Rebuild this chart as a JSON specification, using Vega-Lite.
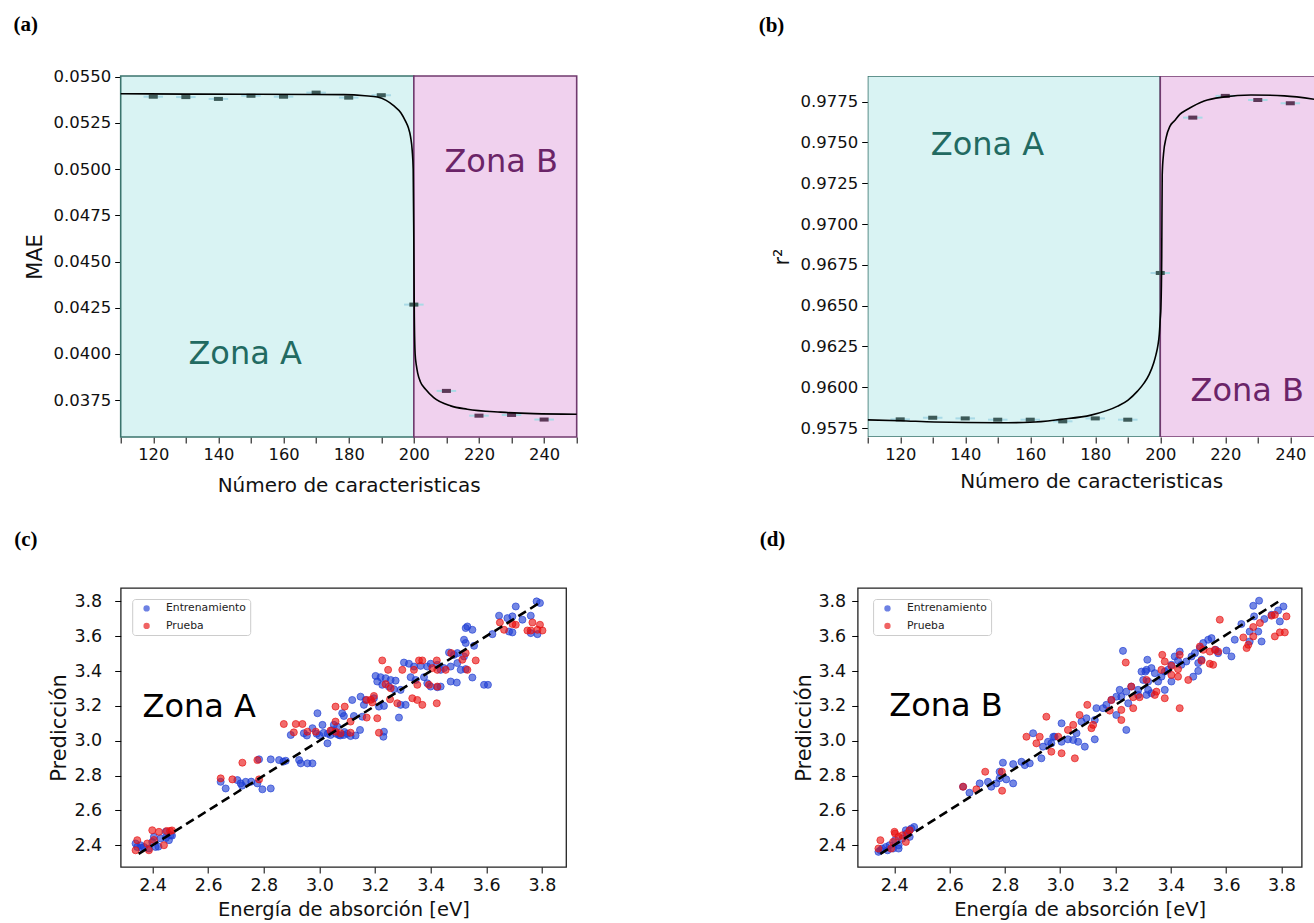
{
  "$schema": "https://vega.github.io/schema/vega-lite/v6.json",
  "padding": {"left": 12.7, "top": 13, "right": 0, "bottom": 0},
  "background": "white",
  "config": {
    "font": "DejaVu Sans",
    "axis": {"domain": false, "grid": false, "tickColor": "#000", "tickWidth": 1, "tickCount": 40, "labelOverlap": false, "labelFont": "DejaVu Sans", "titleFont": "DejaVu Sans", "titleFontWeight": "normal", "labelColor": "#111", "titleColor": "#111"},
    "title": {"font": "Liberation Serif", "fontSize": 21, "fontWeight": "bold", "anchor": "start", "frame": "group", "baseline": "alphabetic", "color": "#000"},
    "legend": {"title": null, "orient": "none", "symbolType": "circle", "symbolSize": 40, "symbolOpacity": 0.65, "symbolStrokeWidth": 0, "labelFont": "DejaVu Sans", "labelFontSize": 10.8, "labelColor": "#222", "labelOffset": 14, "symbolOffset": 5, "padding": 4, "rowPadding": 5.5, "strokeColor": "#cccccc", "fillColor": "#ffffff", "cornerRadius": 3}
  },
  "datasets": {
    "zonasA": [{"zona": "A", "desde": 110, "hasta": 200}, {"zona": "B", "desde": 200, "hasta": 250}],
    "zonasB": [{"zona": "A", "desde": 110, "hasta": 200}, {"zona": "B", "desde": 200, "hasta": 250}],
    "puntosA": [
      {"n": 120, "mae": 0.05392, "err": 3, "zona": "A"},
      {"n": 130, "mae": 0.05390, "err": 3, "zona": "A"},
      {"n": 140, "mae": 0.05380, "err": 3, "zona": "A"},
      {"n": 150, "mae": 0.05397, "err": 3, "zona": "A"},
      {"n": 160, "mae": 0.05392, "err": 3, "zona": "A"},
      {"n": 170, "mae": 0.05414, "err": 3, "zona": "A"},
      {"n": 180, "mae": 0.05387, "err": 3, "zona": "A"},
      {"n": 190, "mae": 0.05400, "err": 3, "zona": "A"},
      {"n": 200, "mae": 0.04267, "err": 3, "zona": "A"},
      {"n": 210, "mae": 0.03800, "err": 3, "zona": "B"},
      {"n": 220, "mae": 0.03666, "err": 3, "zona": "B"},
      {"n": 230, "mae": 0.03670, "err": 3, "zona": "B"},
      {"n": 240, "mae": 0.03645, "err": 3, "zona": "B"}
    ],
    "curvaA": [
      {"n": 110, "mae": 0.05408}, {"n": 130, "mae": 0.05406}, {"n": 150, "mae": 0.05405},
      {"n": 170, "mae": 0.05404}, {"n": 178.5, "mae": 0.05403}, {"n": 185, "mae": 0.05397},
      {"n": 188.8, "mae": 0.05390}, {"n": 191.5, "mae": 0.05372}, {"n": 193.9, "mae": 0.05342},
      {"n": 196, "mae": 0.05305}, {"n": 197.4, "mae": 0.05261}, {"n": 198.3, "mae": 0.05225},
      {"n": 199, "mae": 0.05175}, {"n": 199.5, "mae": 0.05100}, {"n": 199.8, "mae": 0.05000},
      {"n": 200, "mae": 0.04600}, {"n": 200.15, "mae": 0.04200}, {"n": 200.4, "mae": 0.04000},
      {"n": 200.8, "mae": 0.03935}, {"n": 201.2, "mae": 0.03895}, {"n": 202, "mae": 0.03850},
      {"n": 203.6, "mae": 0.03809}, {"n": 206.1, "mae": 0.03764}, {"n": 211.3, "mae": 0.03719},
      {"n": 216.4, "mae": 0.03701}, {"n": 226.6, "mae": 0.03685}, {"n": 236.8, "mae": 0.03677},
      {"n": 250, "mae": 0.03674}
    ],
    "textosA": [
      {"texto": "Zona A", "n": 130.8, "mae": 0.03944, "zona": "A"},
      {"texto": "Zona B", "n": 209.4, "mae": 0.04986, "zona": "B"}
    ],
    "puntosB": [
      {"n": 120, "r2": 0.95803, "err": 3, "zona": "A"},
      {"n": 130, "r2": 0.95813, "err": 3, "zona": "A"},
      {"n": 140, "r2": 0.95809, "err": 3, "zona": "A"},
      {"n": 150, "r2": 0.95801, "err": 3, "zona": "A"},
      {"n": 160, "r2": 0.95801, "err": 3, "zona": "A"},
      {"n": 170, "r2": 0.95791, "err": 3, "zona": "A"},
      {"n": 180, "r2": 0.95809, "err": 3, "zona": "A"},
      {"n": 190, "r2": 0.95801, "err": 3, "zona": "A"},
      {"n": 200, "r2": 0.96700, "err": 3, "zona": "A"},
      {"n": 210, "r2": 0.97652, "err": 3, "zona": "B"},
      {"n": 220, "r2": 0.97785, "err": 3, "zona": "B"},
      {"n": 230, "r2": 0.97760, "err": 3, "zona": "B"},
      {"n": 240, "r2": 0.97740, "err": 3, "zona": "B"}
    ],
    "curvaB": [
      {"n": 110, "r2": 0.95800}, {"n": 120, "r2": 0.95795}, {"n": 130.5, "r2": 0.95787},
      {"n": 150, "r2": 0.95782}, {"n": 160, "r2": 0.95785}, {"n": 169.4, "r2": 0.95803},
      {"n": 178.7, "r2": 0.95829}, {"n": 186.9, "r2": 0.95884}, {"n": 190, "r2": 0.95920},
      {"n": 193, "r2": 0.95976}, {"n": 195, "r2": 0.96025}, {"n": 196.6, "r2": 0.96079},
      {"n": 198, "r2": 0.96150}, {"n": 198.7, "r2": 0.96201}, {"n": 199.3, "r2": 0.96260},
      {"n": 199.7, "r2": 0.96324}, {"n": 200, "r2": 0.96420}, {"n": 200.2, "r2": 0.96487},
      {"n": 200.45, "r2": 0.96800}, {"n": 200.6, "r2": 0.97300}, {"n": 201, "r2": 0.97430},
      {"n": 201.8, "r2": 0.97529}, {"n": 203, "r2": 0.97600}, {"n": 204.3, "r2": 0.97631},
      {"n": 206, "r2": 0.97672}, {"n": 208.4, "r2": 0.97703}, {"n": 213.5, "r2": 0.97754},
      {"n": 219.7, "r2": 0.97779}, {"n": 227.9, "r2": 0.97791}, {"n": 238.2, "r2": 0.97785},
      {"n": 247.5, "r2": 0.97764}
    ],
    "textosB": [
      {"texto": "Zona A", "n": 129.4, "r2": 0.97423, "zona": "A"},
      {"texto": "Zona B", "n": 209.3, "r2": 0.95915, "zona": "B"}
    ],
    "idealC": [{"real": 2.35, "pred": 2.35}, {"real": 3.80, "pred": 3.80}],
    "idealD": [{"real": 2.35, "pred": 2.35}, {"real": 3.80, "pred": 3.81}],
    "textoC": [{"texto": "Zona A", "real": 2.364, "pred": 3.138}],
    "textoD": [{"texto": "Zona B", "real": 2.382, "pred": 3.142}],
    "puntosC": [
      {"conjunto": "Entrenamiento", "real": 2.339, "pred": 2.410},
      {"conjunto": "Entrenamiento", "real": 2.345, "pred": 2.390},
      {"conjunto": "Entrenamiento", "real": 2.357, "pred": 2.400},
      {"conjunto": "Entrenamiento", "real": 2.369, "pred": 2.390},
      {"conjunto": "Entrenamiento", "real": 2.387, "pred": 2.381},
      {"conjunto": "Entrenamiento", "real": 2.399, "pred": 2.419},
      {"conjunto": "Entrenamiento", "real": 2.405, "pred": 2.448},
      {"conjunto": "Entrenamiento", "real": 2.411, "pred": 2.390},
      {"conjunto": "Entrenamiento", "real": 2.429, "pred": 2.439},
      {"conjunto": "Entrenamiento", "real": 2.447, "pred": 2.477},
      {"conjunto": "Entrenamiento", "real": 2.459, "pred": 2.429},
      {"conjunto": "Entrenamiento", "real": 2.465, "pred": 2.458},
      {"conjunto": "Entrenamiento", "real": 2.421, "pred": 2.392},
      {"conjunto": "Entrenamiento", "real": 2.448, "pred": 2.442},
      {"conjunto": "Entrenamiento", "real": 2.470, "pred": 2.455},
      {"conjunto": "Entrenamiento", "real": 2.360, "pred": 2.385},
      {"conjunto": "Entrenamiento", "real": 2.645, "pred": 2.764},
      {"conjunto": "Entrenamiento", "real": 2.663, "pred": 2.726},
      {"conjunto": "Entrenamiento", "real": 2.705, "pred": 2.774},
      {"conjunto": "Entrenamiento", "real": 2.717, "pred": 2.755},
      {"conjunto": "Entrenamiento", "real": 2.735, "pred": 2.764},
      {"conjunto": "Entrenamiento", "real": 2.777, "pred": 2.755},
      {"conjunto": "Entrenamiento", "real": 2.795, "pred": 2.721},
      {"conjunto": "Entrenamiento", "real": 2.825, "pred": 2.726},
      {"conjunto": "Entrenamiento", "real": 2.783, "pred": 2.893},
      {"conjunto": "Entrenamiento", "real": 2.825, "pred": 2.893},
      {"conjunto": "Entrenamiento", "real": 2.855, "pred": 2.889},
      {"conjunto": "Entrenamiento", "real": 2.879, "pred": 2.885},
      {"conjunto": "Entrenamiento", "real": 2.927, "pred": 2.889},
      {"conjunto": "Entrenamiento", "real": 2.933, "pred": 2.870},
      {"conjunto": "Entrenamiento", "real": 2.957, "pred": 2.870},
      {"conjunto": "Entrenamiento", "real": 2.975, "pred": 2.870},
      {"conjunto": "Entrenamiento", "real": 2.897, "pred": 3.033},
      {"conjunto": "Entrenamiento", "real": 2.944, "pred": 3.043},
      {"conjunto": "Entrenamiento", "real": 2.975, "pred": 3.072},
      {"conjunto": "Entrenamiento", "real": 2.993, "pred": 3.158},
      {"conjunto": "Entrenamiento", "real": 3.029, "pred": 2.985},
      {"conjunto": "Entrenamiento", "real": 3.040, "pred": 3.033},
      {"conjunto": "Entrenamiento", "real": 3.011, "pred": 3.091},
      {"conjunto": "Entrenamiento", "real": 3.052, "pred": 3.091},
      {"conjunto": "Entrenamiento", "real": 2.870, "pred": 2.880},
      {"conjunto": "Entrenamiento", "real": 2.722, "pred": 2.742},
      {"conjunto": "Entrenamiento", "real": 2.755, "pred": 2.765},
      {"conjunto": "Entrenamiento", "real": 3.000, "pred": 3.030},
      {"conjunto": "Entrenamiento", "real": 3.015, "pred": 3.045},
      {"conjunto": "Entrenamiento", "real": 3.030, "pred": 3.040},
      {"conjunto": "Entrenamiento", "real": 3.045, "pred": 3.060},
      {"conjunto": "Entrenamiento", "real": 3.060, "pred": 3.040},
      {"conjunto": "Entrenamiento", "real": 3.075, "pred": 3.030},
      {"conjunto": "Entrenamiento", "real": 3.090, "pred": 3.050},
      {"conjunto": "Entrenamiento", "real": 3.100, "pred": 3.040},
      {"conjunto": "Entrenamiento", "real": 3.130, "pred": 3.030},
      {"conjunto": "Entrenamiento", "real": 2.990, "pred": 3.040},
      {"conjunto": "Entrenamiento", "real": 2.955, "pred": 3.030},
      {"conjunto": "Entrenamiento", "real": 3.781, "pred": 3.800},
      {"conjunto": "Entrenamiento", "real": 3.793, "pred": 3.791},
      {"conjunto": "Entrenamiento", "real": 3.706, "pred": 3.771},
      {"conjunto": "Entrenamiento", "real": 3.646, "pred": 3.718},
      {"conjunto": "Entrenamiento", "real": 3.676, "pred": 3.704},
      {"conjunto": "Entrenamiento", "real": 3.694, "pred": 3.714},
      {"conjunto": "Entrenamiento", "real": 3.730, "pred": 3.695},
      {"conjunto": "Entrenamiento", "real": 3.760, "pred": 3.718},
      {"conjunto": "Entrenamiento", "real": 3.682, "pred": 3.627},
      {"conjunto": "Entrenamiento", "real": 3.694, "pred": 3.622},
      {"conjunto": "Entrenamiento", "real": 3.760, "pred": 3.618},
      {"conjunto": "Entrenamiento", "real": 3.784, "pred": 3.612},
      {"conjunto": "Entrenamiento", "real": 3.622, "pred": 3.612},
      {"conjunto": "Entrenamiento", "real": 3.526, "pred": 3.647},
      {"conjunto": "Entrenamiento", "real": 3.532, "pred": 3.656},
      {"conjunto": "Entrenamiento", "real": 3.550, "pred": 3.637},
      {"conjunto": "Entrenamiento", "real": 3.520, "pred": 3.580},
      {"conjunto": "Entrenamiento", "real": 3.526, "pred": 3.561},
      {"conjunto": "Entrenamiento", "real": 3.556, "pred": 3.545},
      {"conjunto": "Entrenamiento", "real": 3.466, "pred": 3.507},
      {"conjunto": "Entrenamiento", "real": 3.496, "pred": 3.503},
      {"conjunto": "Entrenamiento", "real": 3.484, "pred": 3.493},
      {"conjunto": "Entrenamiento", "real": 3.520, "pred": 3.484},
      {"conjunto": "Entrenamiento", "real": 3.496, "pred": 3.446},
      {"conjunto": "Entrenamiento", "real": 3.472, "pred": 3.426},
      {"conjunto": "Entrenamiento", "real": 3.448, "pred": 3.417},
      {"conjunto": "Entrenamiento", "real": 3.508, "pred": 3.407},
      {"conjunto": "Entrenamiento", "real": 3.526, "pred": 3.411},
      {"conjunto": "Entrenamiento", "real": 3.550, "pred": 3.363},
      {"conjunto": "Entrenamiento", "real": 3.472, "pred": 3.340},
      {"conjunto": "Entrenamiento", "real": 3.494, "pred": 3.334},
      {"conjunto": "Entrenamiento", "real": 3.592, "pred": 3.321},
      {"conjunto": "Entrenamiento", "real": 3.606, "pred": 3.321},
      {"conjunto": "Entrenamiento", "real": 3.304, "pred": 3.449},
      {"conjunto": "Entrenamiento", "real": 3.322, "pred": 3.442},
      {"conjunto": "Entrenamiento", "real": 3.340, "pred": 3.426},
      {"conjunto": "Entrenamiento", "real": 3.364, "pred": 3.430},
      {"conjunto": "Entrenamiento", "real": 3.388, "pred": 3.426},
      {"conjunto": "Entrenamiento", "real": 3.400, "pred": 3.442},
      {"conjunto": "Entrenamiento", "real": 3.424, "pred": 3.436},
      {"conjunto": "Entrenamiento", "real": 3.436, "pred": 3.407},
      {"conjunto": "Entrenamiento", "real": 3.202, "pred": 3.372},
      {"conjunto": "Entrenamiento", "real": 3.220, "pred": 3.365},
      {"conjunto": "Entrenamiento", "real": 3.238, "pred": 3.359},
      {"conjunto": "Entrenamiento", "real": 3.256, "pred": 3.349},
      {"conjunto": "Entrenamiento", "real": 3.274, "pred": 3.345},
      {"conjunto": "Entrenamiento", "real": 3.208, "pred": 3.340},
      {"conjunto": "Entrenamiento", "real": 3.226, "pred": 3.321},
      {"conjunto": "Entrenamiento", "real": 3.250, "pred": 3.311},
      {"conjunto": "Entrenamiento", "real": 3.268, "pred": 3.296},
      {"conjunto": "Entrenamiento", "real": 3.292, "pred": 3.292},
      {"conjunto": "Entrenamiento", "real": 3.328, "pred": 3.365},
      {"conjunto": "Entrenamiento", "real": 3.346, "pred": 3.349},
      {"conjunto": "Entrenamiento", "real": 3.376, "pred": 3.365},
      {"conjunto": "Entrenamiento", "real": 3.388, "pred": 3.330},
      {"conjunto": "Entrenamiento", "real": 3.400, "pred": 3.311},
      {"conjunto": "Entrenamiento", "real": 3.424, "pred": 3.307},
      {"conjunto": "Entrenamiento", "real": 3.436, "pred": 3.311},
      {"conjunto": "Entrenamiento", "real": 3.148, "pred": 3.253},
      {"conjunto": "Entrenamiento", "real": 3.166, "pred": 3.234},
      {"conjunto": "Entrenamiento", "real": 3.160, "pred": 3.206},
      {"conjunto": "Entrenamiento", "real": 3.196, "pred": 3.244},
      {"conjunto": "Entrenamiento", "real": 3.214, "pred": 3.196},
      {"conjunto": "Entrenamiento", "real": 3.232, "pred": 3.200},
      {"conjunto": "Entrenamiento", "real": 3.292, "pred": 3.206},
      {"conjunto": "Entrenamiento", "real": 3.310, "pred": 3.206},
      {"conjunto": "Entrenamiento", "real": 3.118, "pred": 3.234},
      {"conjunto": "Entrenamiento", "real": 3.082, "pred": 3.158},
      {"conjunto": "Entrenamiento", "real": 3.088, "pred": 3.142},
      {"conjunto": "Entrenamiento", "real": 3.124, "pred": 3.142},
      {"conjunto": "Entrenamiento", "real": 3.154, "pred": 3.138},
      {"conjunto": "Entrenamiento", "real": 3.286, "pred": 3.133},
      {"conjunto": "Entrenamiento", "real": 3.064, "pred": 3.081},
      {"conjunto": "Entrenamiento", "real": 3.070, "pred": 3.033},
      {"conjunto": "Entrenamiento", "real": 3.088, "pred": 3.033},
      {"conjunto": "Entrenamiento", "real": 3.146, "pred": 3.062},
      {"conjunto": "Entrenamiento", "real": 3.232, "pred": 3.052},
      {"conjunto": "Entrenamiento", "real": 3.230, "pred": 3.023},
      {"conjunto": "Entrenamiento", "real": 3.112, "pred": 3.027},
      {"conjunto": "Prueba", "real": 2.339, "pred": 2.371},
      {"conjunto": "Prueba", "real": 2.345, "pred": 2.429},
      {"conjunto": "Prueba", "real": 2.387, "pred": 2.371},
      {"conjunto": "Prueba", "real": 2.399, "pred": 2.486},
      {"conjunto": "Prueba", "real": 2.423, "pred": 2.477},
      {"conjunto": "Prueba", "real": 2.441, "pred": 2.400},
      {"conjunto": "Prueba", "real": 2.451, "pred": 2.482},
      {"conjunto": "Prueba", "real": 2.463, "pred": 2.482},
      {"conjunto": "Prueba", "real": 2.381, "pred": 2.410},
      {"conjunto": "Prueba", "real": 2.470, "pred": 2.485},
      {"conjunto": "Prueba", "real": 2.405, "pred": 2.430},
      {"conjunto": "Prueba", "real": 2.645, "pred": 2.784},
      {"conjunto": "Prueba", "real": 2.687, "pred": 2.778},
      {"conjunto": "Prueba", "real": 2.783, "pred": 2.778},
      {"conjunto": "Prueba", "real": 2.723, "pred": 2.874},
      {"conjunto": "Prueba", "real": 2.777, "pred": 2.889},
      {"conjunto": "Prueba", "real": 2.872, "pred": 3.096},
      {"conjunto": "Prueba", "real": 2.915, "pred": 3.096},
      {"conjunto": "Prueba", "real": 2.939, "pred": 3.096},
      {"conjunto": "Prueba", "real": 2.908, "pred": 3.048},
      {"conjunto": "Prueba", "real": 2.957, "pred": 3.052},
      {"conjunto": "Prueba", "real": 2.987, "pred": 3.052},
      {"conjunto": "Prueba", "real": 3.040, "pred": 3.058},
      {"conjunto": "Prueba", "real": 3.076, "pred": 3.043},
      {"conjunto": "Prueba", "real": 3.226, "pred": 3.461},
      {"conjunto": "Prueba", "real": 3.247, "pred": 3.407},
      {"conjunto": "Prueba", "real": 3.358, "pred": 3.461},
      {"conjunto": "Prueba", "real": 3.370, "pred": 3.461},
      {"conjunto": "Prueba", "real": 3.422, "pred": 3.461},
      {"conjunto": "Prueba", "real": 3.298, "pred": 3.407},
      {"conjunto": "Prueba", "real": 3.340, "pred": 3.407},
      {"conjunto": "Prueba", "real": 3.406, "pred": 3.417},
      {"conjunto": "Prueba", "real": 3.424, "pred": 3.407},
      {"conjunto": "Prueba", "real": 3.454, "pred": 3.407},
      {"conjunto": "Prueba", "real": 3.474, "pred": 3.503},
      {"conjunto": "Prueba", "real": 3.514, "pred": 3.465},
      {"conjunto": "Prueba", "real": 3.526, "pred": 3.503},
      {"conjunto": "Prueba", "real": 3.562, "pred": 3.461},
      {"conjunto": "Prueba", "real": 3.532, "pred": 3.407},
      {"conjunto": "Prueba", "real": 3.649, "pred": 3.679},
      {"conjunto": "Prueba", "real": 3.664, "pred": 3.637},
      {"conjunto": "Prueba", "real": 3.694, "pred": 3.670},
      {"conjunto": "Prueba", "real": 3.706, "pred": 3.666},
      {"conjunto": "Prueba", "real": 3.766, "pred": 3.679},
      {"conjunto": "Prueba", "real": 3.793, "pred": 3.666},
      {"conjunto": "Prueba", "real": 3.748, "pred": 3.633},
      {"conjunto": "Prueba", "real": 3.760, "pred": 3.633},
      {"conjunto": "Prueba", "real": 3.784, "pred": 3.637},
      {"conjunto": "Prueba", "real": 3.802, "pred": 3.633},
      {"conjunto": "Prueba", "real": 3.238, "pred": 3.325},
      {"conjunto": "Prueba", "real": 3.256, "pred": 3.302},
      {"conjunto": "Prueba", "real": 3.352, "pred": 3.321},
      {"conjunto": "Prueba", "real": 3.394, "pred": 3.321},
      {"conjunto": "Prueba", "real": 3.424, "pred": 3.311},
      {"conjunto": "Prueba", "real": 3.170, "pred": 3.234},
      {"conjunto": "Prueba", "real": 3.196, "pred": 3.257},
      {"conjunto": "Prueba", "real": 3.185, "pred": 3.235},
      {"conjunto": "Prueba", "real": 3.190, "pred": 3.220},
      {"conjunto": "Prueba", "real": 3.254, "pred": 3.238},
      {"conjunto": "Prueba", "real": 3.280, "pred": 3.215},
      {"conjunto": "Prueba", "real": 3.334, "pred": 3.244},
      {"conjunto": "Prueba", "real": 3.352, "pred": 3.234},
      {"conjunto": "Prueba", "real": 3.370, "pred": 3.206},
      {"conjunto": "Prueba", "real": 3.422, "pred": 3.215},
      {"conjunto": "Prueba", "real": 3.058, "pred": 3.196},
      {"conjunto": "Prueba", "real": 3.091, "pred": 3.196},
      {"conjunto": "Prueba", "real": 3.170, "pred": 3.133},
      {"conjunto": "Prueba", "real": 3.208, "pred": 3.129},
      {"conjunto": "Prueba", "real": 3.058, "pred": 3.110},
      {"conjunto": "Prueba", "real": 3.112, "pred": 3.110},
      {"conjunto": "Prueba", "real": 3.214, "pred": 3.046},
      {"conjunto": "Prueba", "real": 3.112, "pred": 3.046},
      {"conjunto": "Prueba", "real": 3.058, "pred": 3.052}
    ],
    "puntosD": [
      {"conjunto": "Entrenamiento", "real": 2.350, "pred": 2.371},
      {"conjunto": "Entrenamiento", "real": 2.370, "pred": 2.390},
      {"conjunto": "Entrenamiento", "real": 2.376, "pred": 2.371},
      {"conjunto": "Entrenamiento", "real": 2.383, "pred": 2.400},
      {"conjunto": "Entrenamiento", "real": 2.396, "pred": 2.381},
      {"conjunto": "Entrenamiento", "real": 2.403, "pred": 2.429},
      {"conjunto": "Entrenamiento", "real": 2.416, "pred": 2.400},
      {"conjunto": "Entrenamiento", "real": 2.416, "pred": 2.381},
      {"conjunto": "Entrenamiento", "real": 2.429, "pred": 2.438},
      {"conjunto": "Entrenamiento", "real": 2.442, "pred": 2.486},
      {"conjunto": "Entrenamiento", "real": 2.456, "pred": 2.448},
      {"conjunto": "Entrenamiento", "real": 2.462, "pred": 2.496},
      {"conjunto": "Entrenamiento", "real": 2.472, "pred": 2.505},
      {"conjunto": "Entrenamiento", "real": 2.356, "pred": 2.381},
      {"conjunto": "Entrenamiento", "real": 2.343, "pred": 2.362},
      {"conjunto": "Entrenamiento", "real": 2.444, "pred": 2.467},
      {"conjunto": "Entrenamiento", "real": 2.455, "pred": 2.486},
      {"conjunto": "Entrenamiento", "real": 2.649, "pred": 2.736},
      {"conjunto": "Entrenamiento", "real": 2.672, "pred": 2.701},
      {"conjunto": "Entrenamiento", "real": 2.709, "pred": 2.755},
      {"conjunto": "Entrenamiento", "real": 2.739, "pred": 2.764},
      {"conjunto": "Entrenamiento", "real": 2.751, "pred": 2.736},
      {"conjunto": "Entrenamiento", "real": 2.769, "pred": 2.755},
      {"conjunto": "Entrenamiento", "real": 2.781, "pred": 2.784},
      {"conjunto": "Entrenamiento", "real": 2.805, "pred": 2.778},
      {"conjunto": "Entrenamiento", "real": 2.830, "pred": 2.755},
      {"conjunto": "Entrenamiento", "real": 2.781, "pred": 2.822},
      {"conjunto": "Entrenamiento", "real": 2.830, "pred": 2.866},
      {"conjunto": "Entrenamiento", "real": 2.793, "pred": 2.874},
      {"conjunto": "Entrenamiento", "real": 2.860, "pred": 2.879},
      {"conjunto": "Entrenamiento", "real": 2.872, "pred": 2.860},
      {"conjunto": "Entrenamiento", "real": 2.890, "pred": 2.870},
      {"conjunto": "Entrenamiento", "real": 2.932, "pred": 2.899},
      {"conjunto": "Entrenamiento", "real": 2.938, "pred": 2.966},
      {"conjunto": "Entrenamiento", "real": 2.956, "pred": 2.994},
      {"conjunto": "Entrenamiento", "real": 2.975, "pred": 3.023},
      {"conjunto": "Entrenamiento", "real": 3.005, "pred": 2.994},
      {"conjunto": "Entrenamiento", "real": 3.028, "pred": 3.008},
      {"conjunto": "Entrenamiento", "real": 2.902, "pred": 3.043},
      {"conjunto": "Entrenamiento", "real": 3.005, "pred": 3.100},
      {"conjunto": "Entrenamiento", "real": 2.980, "pred": 3.023},
      {"conjunto": "Entrenamiento", "real": 2.968, "pred": 2.985},
      {"conjunto": "Entrenamiento", "real": 3.719, "pred": 3.804},
      {"conjunto": "Entrenamiento", "real": 3.698, "pred": 3.775},
      {"conjunto": "Entrenamiento", "real": 3.655, "pred": 3.670},
      {"conjunto": "Entrenamiento", "real": 3.701, "pred": 3.714},
      {"conjunto": "Entrenamiento", "real": 3.738, "pred": 3.699},
      {"conjunto": "Entrenamiento", "real": 3.764, "pred": 3.723},
      {"conjunto": "Entrenamiento", "real": 3.788, "pred": 3.748},
      {"conjunto": "Entrenamiento", "real": 3.807, "pred": 3.771},
      {"conjunto": "Entrenamiento", "real": 3.794, "pred": 3.685},
      {"conjunto": "Entrenamiento", "real": 3.685, "pred": 3.627},
      {"conjunto": "Entrenamiento", "real": 3.716, "pred": 3.627},
      {"conjunto": "Entrenamiento", "real": 3.631, "pred": 3.580},
      {"conjunto": "Entrenamiento", "real": 3.685, "pred": 3.570},
      {"conjunto": "Entrenamiento", "real": 3.728, "pred": 3.570},
      {"conjunto": "Entrenamiento", "real": 3.601, "pred": 3.518},
      {"conjunto": "Entrenamiento", "real": 3.619, "pred": 3.484},
      {"conjunto": "Entrenamiento", "real": 3.547, "pred": 3.589},
      {"conjunto": "Entrenamiento", "real": 3.535, "pred": 3.580},
      {"conjunto": "Entrenamiento", "real": 3.517, "pred": 3.561},
      {"conjunto": "Entrenamiento", "real": 3.505, "pred": 3.532},
      {"conjunto": "Entrenamiento", "real": 3.487, "pred": 3.503},
      {"conjunto": "Entrenamiento", "real": 3.475, "pred": 3.484},
      {"conjunto": "Entrenamiento", "real": 3.456, "pred": 3.455},
      {"conjunto": "Entrenamiento", "real": 3.499, "pred": 3.446},
      {"conjunto": "Entrenamiento", "real": 3.511, "pred": 3.465},
      {"conjunto": "Entrenamiento", "real": 3.562, "pred": 3.522},
      {"conjunto": "Entrenamiento", "real": 3.571, "pred": 3.503},
      {"conjunto": "Entrenamiento", "real": 3.432, "pred": 3.512},
      {"conjunto": "Entrenamiento", "real": 3.414, "pred": 3.484},
      {"conjunto": "Entrenamiento", "real": 3.426, "pred": 3.461},
      {"conjunto": "Entrenamiento", "real": 3.438, "pred": 3.436},
      {"conjunto": "Entrenamiento", "real": 3.402, "pred": 3.436},
      {"conjunto": "Entrenamiento", "real": 3.390, "pred": 3.407},
      {"conjunto": "Entrenamiento", "real": 3.378, "pred": 3.397},
      {"conjunto": "Entrenamiento", "real": 3.481, "pred": 3.368},
      {"conjunto": "Entrenamiento", "real": 3.499, "pred": 3.401},
      {"conjunto": "Entrenamiento", "real": 3.315, "pred": 3.465},
      {"conjunto": "Entrenamiento", "real": 3.227, "pred": 3.516},
      {"conjunto": "Entrenamiento", "real": 3.330, "pred": 3.417},
      {"conjunto": "Entrenamiento", "real": 3.308, "pred": 3.397},
      {"conjunto": "Entrenamiento", "real": 3.342, "pred": 3.388},
      {"conjunto": "Entrenamiento", "real": 3.366, "pred": 3.368},
      {"conjunto": "Entrenamiento", "real": 3.300, "pred": 3.349},
      {"conjunto": "Entrenamiento", "real": 3.318, "pred": 3.340},
      {"conjunto": "Entrenamiento", "real": 3.354, "pred": 3.340},
      {"conjunto": "Entrenamiento", "real": 3.402, "pred": 3.340},
      {"conjunto": "Entrenamiento", "real": 3.378, "pred": 3.292},
      {"conjunto": "Entrenamiento", "real": 3.318, "pred": 3.292},
      {"conjunto": "Entrenamiento", "real": 3.282, "pred": 3.292},
      {"conjunto": "Entrenamiento", "real": 3.257, "pred": 3.311},
      {"conjunto": "Entrenamiento", "real": 3.215, "pred": 3.292},
      {"conjunto": "Entrenamiento", "real": 3.239, "pred": 3.282},
      {"conjunto": "Entrenamiento", "real": 3.221, "pred": 3.253},
      {"conjunto": "Entrenamiento", "real": 3.282, "pred": 3.263},
      {"conjunto": "Entrenamiento", "real": 3.312, "pred": 3.263},
      {"conjunto": "Entrenamiento", "real": 3.330, "pred": 3.273},
      {"conjunto": "Entrenamiento", "real": 3.203, "pred": 3.253},
      {"conjunto": "Entrenamiento", "real": 3.246, "pred": 3.215},
      {"conjunto": "Entrenamiento", "real": 3.167, "pred": 3.206},
      {"conjunto": "Entrenamiento", "real": 3.185, "pred": 3.234},
      {"conjunto": "Entrenamiento", "real": 3.155, "pred": 3.187},
      {"conjunto": "Entrenamiento", "real": 3.131, "pred": 3.187},
      {"conjunto": "Entrenamiento", "real": 3.203, "pred": 3.148},
      {"conjunto": "Entrenamiento", "real": 3.239, "pred": 3.062},
      {"conjunto": "Entrenamiento", "real": 3.095, "pred": 3.129},
      {"conjunto": "Entrenamiento", "real": 3.077, "pred": 3.110},
      {"conjunto": "Entrenamiento", "real": 3.125, "pred": 3.119},
      {"conjunto": "Entrenamiento", "real": 3.125, "pred": 3.008},
      {"conjunto": "Entrenamiento", "real": 3.089, "pred": 2.966},
      {"conjunto": "Entrenamiento", "real": 3.065, "pred": 2.994},
      {"conjunto": "Entrenamiento", "real": 3.047, "pred": 3.004},
      {"conjunto": "Entrenamiento", "real": 3.059, "pred": 3.043},
      {"conjunto": "Entrenamiento", "real": 3.294, "pred": 3.397},
      {"conjunto": "Entrenamiento", "real": 3.312, "pred": 3.407},
      {"conjunto": "Prueba", "real": 2.343, "pred": 2.381},
      {"conjunto": "Prueba", "real": 2.350, "pred": 2.429},
      {"conjunto": "Prueba", "real": 2.389, "pred": 2.381},
      {"conjunto": "Prueba", "real": 2.396, "pred": 2.419},
      {"conjunto": "Prueba", "real": 2.403, "pred": 2.467},
      {"conjunto": "Prueba", "real": 2.416, "pred": 2.448},
      {"conjunto": "Prueba", "real": 2.429, "pred": 2.457},
      {"conjunto": "Prueba", "real": 2.442, "pred": 2.419},
      {"conjunto": "Prueba", "real": 2.449, "pred": 2.467},
      {"conjunto": "Prueba", "real": 2.456, "pred": 2.486},
      {"conjunto": "Prueba", "real": 2.401, "pred": 2.477},
      {"conjunto": "Prueba", "real": 2.649, "pred": 2.736},
      {"conjunto": "Prueba", "real": 2.697, "pred": 2.721},
      {"conjunto": "Prueba", "real": 2.729, "pred": 2.822},
      {"conjunto": "Prueba", "real": 2.789, "pred": 2.822},
      {"conjunto": "Prueba", "real": 2.790, "pred": 2.713},
      {"conjunto": "Prueba", "real": 2.878, "pred": 3.023},
      {"conjunto": "Prueba", "real": 2.914, "pred": 2.985},
      {"conjunto": "Prueba", "real": 2.950, "pred": 3.138},
      {"conjunto": "Prueba", "real": 2.968, "pred": 2.937},
      {"conjunto": "Prueba", "real": 3.005, "pred": 2.928},
      {"conjunto": "Prueba", "real": 2.926, "pred": 3.023},
      {"conjunto": "Prueba", "real": 2.993, "pred": 3.023},
      {"conjunto": "Prueba", "real": 3.028, "pred": 3.062},
      {"conjunto": "Prueba", "real": 3.577, "pred": 3.695},
      {"conjunto": "Prueba", "real": 3.764, "pred": 3.718},
      {"conjunto": "Prueba", "real": 3.776, "pred": 3.723},
      {"conjunto": "Prueba", "real": 3.818, "pred": 3.714},
      {"conjunto": "Prueba", "real": 3.722, "pred": 3.676},
      {"conjunto": "Prueba", "real": 3.698, "pred": 3.653},
      {"conjunto": "Prueba", "real": 3.662, "pred": 3.593},
      {"conjunto": "Prueba", "real": 3.698, "pred": 3.599},
      {"conjunto": "Prueba", "real": 3.794, "pred": 3.622},
      {"conjunto": "Prueba", "real": 3.812, "pred": 3.622},
      {"conjunto": "Prueba", "real": 3.776, "pred": 3.599},
      {"conjunto": "Prueba", "real": 3.680, "pred": 3.551},
      {"conjunto": "Prueba", "real": 3.674, "pred": 3.532},
      {"conjunto": "Prueba", "real": 3.505, "pred": 3.541},
      {"conjunto": "Prueba", "real": 3.517, "pred": 3.522},
      {"conjunto": "Prueba", "real": 3.541, "pred": 3.512},
      {"conjunto": "Prueba", "real": 3.559, "pred": 3.522},
      {"conjunto": "Prueba", "real": 3.571, "pred": 3.512},
      {"conjunto": "Prueba", "real": 3.511, "pred": 3.459},
      {"conjunto": "Prueba", "real": 3.541, "pred": 3.442},
      {"conjunto": "Prueba", "real": 3.553, "pred": 3.436},
      {"conjunto": "Prueba", "real": 3.369, "pred": 3.493},
      {"conjunto": "Prueba", "real": 3.378, "pred": 3.455},
      {"conjunto": "Prueba", "real": 3.432, "pred": 3.493},
      {"conjunto": "Prueba", "real": 3.237, "pred": 3.449},
      {"conjunto": "Prueba", "real": 3.402, "pred": 3.430},
      {"conjunto": "Prueba", "real": 3.426, "pred": 3.411},
      {"conjunto": "Prueba", "real": 3.366, "pred": 3.407},
      {"conjunto": "Prueba", "real": 3.402, "pred": 3.378},
      {"conjunto": "Prueba", "real": 3.426, "pred": 3.368},
      {"conjunto": "Prueba", "real": 3.312, "pred": 3.349},
      {"conjunto": "Prueba", "real": 3.463, "pred": 3.349},
      {"conjunto": "Prueba", "real": 3.257, "pred": 3.311},
      {"conjunto": "Prueba", "real": 3.348, "pred": 3.282},
      {"conjunto": "Prueba", "real": 3.342, "pred": 3.263},
      {"conjunto": "Prueba", "real": 3.378, "pred": 3.244},
      {"conjunto": "Prueba", "real": 3.432, "pred": 3.187},
      {"conjunto": "Prueba", "real": 3.287, "pred": 3.250},
      {"conjunto": "Prueba", "real": 3.264, "pred": 3.250},
      {"conjunto": "Prueba", "real": 3.185, "pred": 3.234},
      {"conjunto": "Prueba", "real": 3.179, "pred": 3.173},
      {"conjunto": "Prueba", "real": 3.221, "pred": 3.177},
      {"conjunto": "Prueba", "real": 3.264, "pred": 3.187},
      {"conjunto": "Prueba", "real": 3.221, "pred": 3.119},
      {"conjunto": "Prueba", "real": 3.098, "pred": 3.206},
      {"conjunto": "Prueba", "real": 3.070, "pred": 3.148},
      {"conjunto": "Prueba", "real": 3.119, "pred": 3.091},
      {"conjunto": "Prueba", "real": 3.113, "pred": 3.072},
      {"conjunto": "Prueba", "real": 3.047, "pred": 3.091},
      {"conjunto": "Prueba", "real": 3.053, "pred": 2.899}
    ]
  },
  "resolve": {
    "scale": {"color": "independent", "stroke": "independent", "fill": "independent"},
    "legend": {"color": "independent", "stroke": "independent", "fill": "independent"}
  },
  "vconcat": [
    {
      "hconcat": [
        {
          "width": 456,
          "height": 361,
          "view": {"stroke": null},
          "title": {"text": "(a)", "dx": -107.3, "offset": 34},
          "layer": [
            {
              "data": {"name": "zonasA"},
              "mark": {"type": "rect", "strokeWidth": 1.6},
              "encoding": {
                "x": {"field": "desde", "type": "quantitative", "title": "Número de caracteristicas", "scale": {"domain": [110, 250], "nice": false, "zero": false},
                  "axis": {"title": "Número de caracteristicas", "values": [110, 120, 130, 140, 150, 160, 170, 180, 190, 200, 210, 220, 230, 240, 250], "tickCount": 40, "labelExpr": "datum.value % 20 == 0 ? format(datum.value, 'd') : ''", "labelOverlap": false, "labelFlush": false, "labelFontSize": 16.3, "titleFontSize": 20, "tickSize": 6, "labelPadding": 3, "titlePadding": 13}},
                "x2": {"field": "hasta"},
                "y": {"datum": 0.035506, "type": "quantitative", "scale": {"domain": [0.035506, 0.05504], "nice": false, "zero": false},
                  "axis": {"title": "MAE", "values": [0.0375, 0.04, 0.0425, 0.045, 0.0475, 0.05, 0.0525, 0.055], "tickCount": 40, "format": ".4f", "labelOverlap": false, "labelFontSize": 16.5, "titleFontSize": 21, "tickSize": 6, "labelPadding": 4, "titlePadding": 7}},
                "y2": {"datum": 0.05504},
                "fill": {"condition": {"test": "datum.zona === 'A'", "value": "#d9f3f3"}, "value": "#f0d1ee"},
                "stroke": {"condition": {"test": "datum.zona === 'A'", "value": "#3b746d"}, "value": "#703a6e"}
              }
            },
            {
              "data": {"name": "puntosA"},
              "mark": {"type": "errorbar", "color": "#a9dae6", "thickness": 2},
              "encoding": {
                "x": {"field": "n", "type": "quantitative", "title": "Número de caracteristicas"},
                "xError": {"field": "err"},
                "y": {"field": "mae", "type": "quantitative", "title": "MAE"}
              }
            },
            {
              "data": {"name": "puntosA"},
              "mark": {"type": "point", "filled": true, "shape": "M-1,-0.45H1V0.45H-1Z", "size": 81, "opacity": 1},
              "encoding": {
                "x": {"field": "n", "type": "quantitative", "title": "Número de caracteristicas"},
                "y": {"field": "mae", "type": "quantitative", "title": "MAE"},
                "color": {"condition": {"test": "datum.zona === 'A'", "value": "#3d5a58"}, "value": "#5c3857"}
              }
            },
            {
              "data": {"name": "curvaA"},
              "mark": {"type": "line", "color": "#000", "strokeWidth": 1.6, "interpolate": "monotone"},
              "encoding": {
                "x": {"field": "n", "type": "quantitative", "title": "Número de caracteristicas"},
                "y": {"field": "mae", "type": "quantitative", "title": "MAE"}
              }
            },
            {
              "data": {"name": "textosA"},
              "mark": {"type": "text", "align": "left", "baseline": "alphabetic", "fontSize": 32, "font": "DejaVu Sans"},
              "encoding": {
                "x": {"field": "n", "type": "quantitative", "title": "Número de caracteristicas"},
                "y": {"field": "mae", "type": "quantitative", "title": "MAE"},
                "text": {"field": "texto"},
                "color": {"condition": {"test": "datum.zona === 'A'", "value": "#226a61"}, "value": "#6b2468"}
              }
            }
          ]
        },
        {
          "width": 447,
          "height": 361,
          "view": {"stroke": null},
          "title": {"text": "(b)", "dx": -109, "offset": 40},
          "layer": [
            {
              "data": {"name": "zonasB"},
              "mark": {"type": "rect", "strokeWidth": 1.6, "clip": true},
              "encoding": {
                "x": {"field": "desde", "type": "quantitative", "title": "Número de caracteristicas", "scale": {"domain": [110, 247.5], "nice": false, "zero": false},
                  "axis": {"title": "Número de caracteristicas", "values": [110, 120, 130, 140, 150, 160, 170, 180, 190, 200, 210, 220, 230, 240], "tickCount": 40, "labelExpr": "datum.value % 20 == 0 ? format(datum.value, 'd') : ''", "labelOverlap": false, "labelFlush": false, "labelFontSize": 16.3, "titleFontSize": 20, "tickSize": 6, "labelPadding": 3, "titlePadding": 9}},
                "x2": {"field": "hasta"},
                "y": {"datum": 0.95695, "type": "quantitative", "scale": {"domain": [0.95695, 0.97907], "nice": false, "zero": false},
                  "axis": {"title": "r²", "values": [0.9575, 0.96, 0.9625, 0.965, 0.9675, 0.97, 0.9725, 0.975, 0.9775], "tickCount": 40, "format": ".4f", "labelOverlap": false, "labelFontSize": 16.5, "titleFontSize": 21, "tickSize": 6, "labelPadding": 4, "titlePadding": 7}},
                "y2": {"datum": 0.97907},
                "fill": {"condition": {"test": "datum.zona === 'A'", "value": "#d9f3f3"}, "value": "#f0d1ee"},
                "stroke": {"condition": {"test": "datum.zona === 'A'", "value": "#3b746d"}, "value": "#703a6e"}
              }
            },
            {
              "data": {"name": "puntosB"},
              "mark": {"type": "errorbar", "color": "#a9dae6", "thickness": 2},
              "encoding": {
                "x": {"field": "n", "type": "quantitative", "title": "Número de caracteristicas"},
                "xError": {"field": "err"},
                "y": {"field": "r2", "type": "quantitative", "title": "r²"}
              }
            },
            {
              "data": {"name": "puntosB"},
              "mark": {"type": "point", "filled": true, "shape": "M-1,-0.45H1V0.45H-1Z", "size": 81, "opacity": 1},
              "encoding": {
                "x": {"field": "n", "type": "quantitative", "title": "Número de caracteristicas"},
                "y": {"field": "r2", "type": "quantitative", "title": "r²"},
                "color": {"condition": {"test": "datum.zona === 'A'", "value": "#3d5a58"}, "value": "#5c3857"}
              }
            },
            {
              "data": {"name": "curvaB"},
              "mark": {"type": "line", "color": "#000", "strokeWidth": 1.6, "interpolate": "monotone", "clip": true},
              "encoding": {
                "x": {"field": "n", "type": "quantitative", "title": "Número de caracteristicas"},
                "y": {"field": "r2", "type": "quantitative", "title": "r²"}
              }
            },
            {
              "data": {"name": "textosB"},
              "mark": {"type": "text", "align": "left", "baseline": "alphabetic", "fontSize": 32, "font": "DejaVu Sans"},
              "encoding": {
                "x": {"field": "n", "type": "quantitative", "title": "Número de caracteristicas"},
                "y": {"field": "r2", "type": "quantitative", "title": "r²"},
                "text": {"field": "texto"},
                "color": {"condition": {"test": "datum.zona === 'A'", "value": "#226a61"}, "value": "#6b2468"}
              }
            }
          ]
        }
      ],
      "spacing": 291,
      "bounds": "flush"
    },
    {
      "resolve": {
        "scale": {"color": "independent", "stroke": "independent"},
        "legend": {"color": "independent", "stroke": "independent"}
      },
      "hconcat": [
        {
          "width": 445.4,
          "height": 279,
          "view": {"stroke": "#222", "strokeWidth": 1.3},
          "title": {"text": "(c)", "dx": -106.5, "offset": 38.4},
          "layer": [
            {
              "data": {"name": "puntosC"},
              "mark": {"type": "point", "filled": true, "size": 50, "fillOpacity": 0.62, "strokeOpacity": 0.65, "strokeWidth": 1},
              "encoding": {
                "x": {"field": "real", "type": "quantitative", "title": "Energía de absorción [eV]", "scale": {"domain": [2.2855, 3.887], "nice": false, "zero": false},
                  "axis": {"title": "Energía de absorción [eV]", "values": [2.4, 2.6, 2.8, 3.0, 3.2, 3.4, 3.6, 3.8], "tickCount": 40, "format": ".1f", "labelOverlap": false, "labelFlush": false, "labelFontSize": 17.5, "titleFontSize": 19.5, "tickSize": 6, "labelPadding": 4, "titlePadding": 6}},
                "y": {"field": "pred", "type": "quantitative", "title": "Predicción", "scale": {"domain": [2.275, 3.877], "nice": false, "zero": false},
                  "axis": {"title": "Predicción", "values": [2.4, 2.6, 2.8, 3.0, 3.2, 3.4, 3.6, 3.8], "tickCount": 40, "format": ".1f", "labelOverlap": false, "labelFontSize": 17.5, "titleFontSize": 21, "tickSize": 6, "labelPadding": 13, "titlePadding": 4}},
                "color": {"field": "conjunto", "type": "nominal", "scale": {"domain": ["Entrenamiento", "Prueba"], "range": ["#1f3ed4", "#e81010"]}, "legend": {"legendX": 11.5, "legendY": 11}},
                "stroke": {"field": "conjunto", "type": "nominal", "scale": {"domain": ["Entrenamiento", "Prueba"], "range": ["#1f3ed4", "#e81010"]}, "legend": null}
              }
            },
            {
              "data": {"name": "idealC"},
              "mark": {"type": "line", "color": "#000", "strokeWidth": 2.6, "strokeDash": [9, 5]},
              "encoding": {
                "x": {"field": "real", "type": "quantitative", "title": "Energía de absorción [eV]"},
                "y": {"field": "pred", "type": "quantitative", "title": "Predicción"}
              }
            },
            {
              "data": {"name": "textoC"},
              "mark": {"type": "text", "align": "left", "baseline": "alphabetic", "fontSize": 32, "font": "DejaVu Sans", "color": "#000"},
              "encoding": {
                "x": {"field": "real", "type": "quantitative", "title": "Energía de absorción [eV]"},
                "y": {"field": "pred", "type": "quantitative", "title": "Predicción"},
                "text": {"field": "texto"}
              }
            }
          ]
        },
        {
          "width": 444,
          "height": 279,
          "view": {"stroke": "#222", "strokeWidth": 1.3},
          "title": {"text": "(d)", "dx": -98, "offset": 38.4},
          "layer": [
            {
              "data": {"name": "puntosD"},
              "mark": {"type": "point", "filled": true, "size": 50, "fillOpacity": 0.62, "strokeOpacity": 0.65, "strokeWidth": 1},
              "encoding": {
                "x": {"field": "real", "type": "quantitative", "title": "Energía de absorción [eV]", "scale": {"domain": [2.268, 3.873], "nice": false, "zero": false},
                  "axis": {"title": "Energía de absorción [eV]", "values": [2.4, 2.6, 2.8, 3.0, 3.2, 3.4, 3.6, 3.8], "tickCount": 40, "format": ".1f", "labelOverlap": false, "labelFlush": false, "labelFontSize": 17.5, "titleFontSize": 19.5, "tickSize": 6, "labelPadding": 4, "titlePadding": 6}},
                "y": {"field": "pred", "type": "quantitative", "title": "Predicción", "scale": {"domain": [2.275, 3.877], "nice": false, "zero": false},
                  "axis": {"title": "Predicción", "values": [2.4, 2.6, 2.8, 3.0, 3.2, 3.4, 3.6, 3.8], "tickCount": 40, "format": ".1f", "labelOverlap": false, "labelFontSize": 17.5, "titleFontSize": 21, "tickSize": 6, "labelPadding": 6, "titlePadding": 3}},
                "color": {"field": "conjunto", "type": "nominal", "scale": {"domain": ["Entrenamiento", "Prueba"], "range": ["#1f3ed4", "#e81010"]}, "legend": {"legendX": 15.4, "legendY": 11}},
                "stroke": {"field": "conjunto", "type": "nominal", "scale": {"domain": ["Entrenamiento", "Prueba"], "range": ["#1f3ed4", "#e81010"]}, "legend": null}
              }
            },
            {
              "data": {"name": "idealD"},
              "mark": {"type": "line", "color": "#000", "strokeWidth": 2.6, "strokeDash": [9, 5]},
              "encoding": {
                "x": {"field": "real", "type": "quantitative", "title": "Energía de absorción [eV]"},
                "y": {"field": "pred", "type": "quantitative", "title": "Predicción"}
              }
            },
            {
              "data": {"name": "textoD"},
              "mark": {"type": "text", "align": "left", "baseline": "alphabetic", "fontSize": 32, "font": "DejaVu Sans", "color": "#000"},
              "encoding": {
                "x": {"field": "real", "type": "quantitative", "title": "Energía de absorción [eV]"},
                "y": {"field": "pred", "type": "quantitative", "title": "Predicción"},
                "text": {"field": "texto"}
              }
            }
          ]
        }
      ],
      "spacing": 291,
      "bounds": "flush"
    }
  ],
  "spacing": 31
}
